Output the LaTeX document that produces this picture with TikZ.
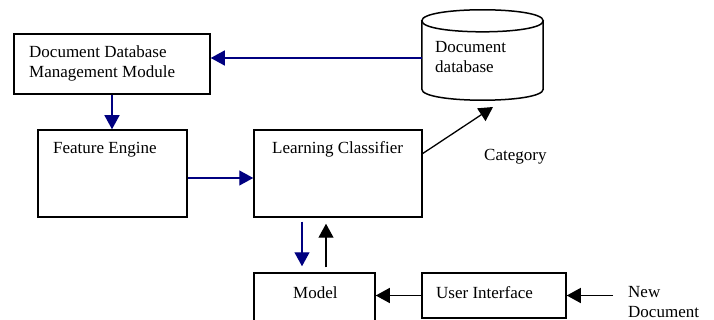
\documentclass[tikz,border=0pt]{standalone}
\usepackage{fontspec}
\setmainfont{Liberation Serif}
\usetikzlibrary{arrows.meta}
\definecolor{navyline}{RGB}{0,0,128}
\tikzset{
  box/.style={draw,line width=1.5pt,rectangle,inner sep=0pt},
  lbl/.style={inner sep=0pt,align=left,anchor=base west,font=\fontsize{17}{20}\selectfont},
  bluearr/.style={navyline,line width=1.3pt,-{Triangle[length=14pt,width=15pt]}},
  blackarr/.style={black,line width=1.3pt,-{Triangle[length=14pt,width=15pt]}}
}
\begin{document}
\begin{tikzpicture}[x=1pt,y=-1pt]
\useasboundingbox (0,0) rectangle (714,320);
\node[box,minimum width=196pt,minimum height=60pt] (ddmm) at (112,64) {};
\node[box,minimum width=149pt,minimum height=87pt] (fe) at (112.5,173.5) {};
\node[box,minimum width=168pt,minimum height=87pt] (lc) at (338,173.5) {};
\node[box,minimum width=121pt,minimum height=57pt] (model) at (314.5,301.5) {};
\node[box,minimum width=144pt,minimum height=45pt] (ui) at (494,295.5) {};
\node[inner sep=0pt,minimum width=121pt,minimum height=68pt] (db) at (482.5,55) {};
% cylinder outline
\draw[line width=1.5pt] (db.north west) .. controls ([yshift=14.7pt]db.north west) and ([yshift=14.7pt]db.north east) .. (db.north east)
  .. controls ([yshift=-14.7pt]db.north east) and ([yshift=-14.7pt]db.north west) .. cycle;
\draw[line width=1.5pt] (db.north west) -- (db.south west)
  .. controls ([yshift=-14.7pt]db.south west) and ([yshift=-14.7pt]db.south east) .. (db.south east) -- (db.north east);

\node[lbl] (ddmmtxt) at (29,78) {Document Database\\Management Module};
\node[lbl] (fetxt) at (53,154) {Feature Engine};
\node[lbl] (lctxt) at (272,154) {Learning Classifier};
\node[lbl] (dbtxt) at (435,73) {Document\\database};
\node[lbl] (cat) at (484,161) {Category};
\node[lbl] (modeltxt) at (293,298) {Model};
\node[lbl] (uitxt) at (436,298) {User Interface};
\node[lbl] (newdoc) at (628,317) {New\\Document};
\coordinate (dbin) at (493,107);
\coordinate (ndin) at (613,295.5);

\draw[bluearr] ([yshift=-3pt]db.west) -- ([yshift=-3pt]db.west -| ddmm.east);
\draw[bluearr] (ddmm.south) -- (ddmm.south |- fe.north);
\draw[bluearr] ([yshift=-4.5pt]fe.east) -- ([yshift=-4.5pt]fe.east -| lc.west);
\draw[blackarr] ([yshift=20pt]lc.east) -- (dbin);
\draw[bluearr,shorten <=4pt,shorten >=6pt] ([xshift=-12.5pt]model.north |- lc.south) -- ([xshift=-12.5pt]model.north);
\draw[blackarr,shorten <=5pt,shorten >=6pt] ([xshift=11.5pt]model.north) -- ([xshift=11.5pt]model.north |- lc.south);
\draw[blackarr] (ui.west) -- (ui.west -| model.east);
\draw[blackarr] (ndin) -- (ui.east);
\end{tikzpicture}
\end{document}
